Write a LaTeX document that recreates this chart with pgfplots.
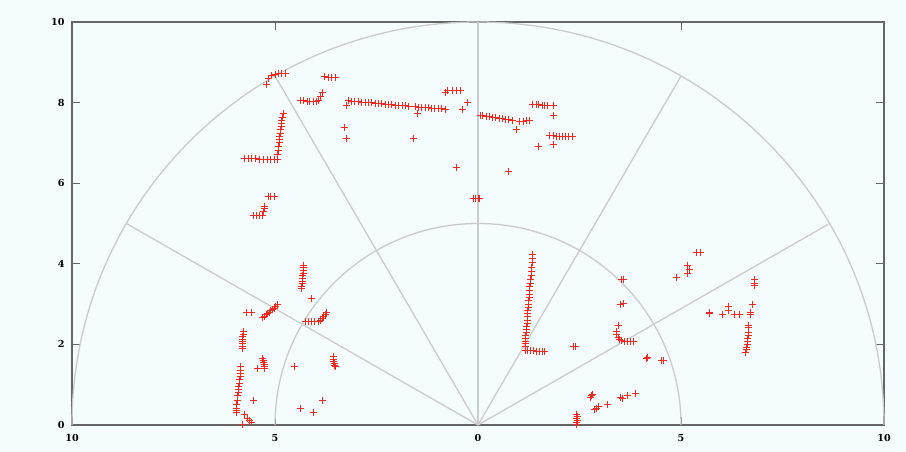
\documentclass[border=0pt]{standalone}
\usepackage{fontspec}
\setmainfont{DejaVu Serif}
\usepackage{pgfplots}
\pgfplotsset{compat=1.18}
\usepackage{pgfplotstable}
\definecolor{bgc}{HTML}{F5FCFD}
\definecolor{gridc}{HTML}{CBCBCB}
\definecolor{ptc}{HTML}{F0281E}

% points
\pgfplotstableread{
x y
-5.20 8.46
-5.15 8.60
-5.08 8.66
-5.00 8.70
-4.92 8.71
-4.84 8.72
-4.75 8.73
-5.74 6.62
-5.66 6.62
-5.58 6.62
-5.48 6.61
-5.38 6.60
-5.28 6.60
-5.18 6.59
-5.10 6.59
-5.02 6.58
-4.95 6.58
-4.93 6.70
-4.92 6.80
-4.91 6.90
-4.90 7.00
-4.89 7.08
-4.88 7.16
-4.87 7.24
-4.86 7.32
-4.85 7.40
-4.84 7.48
-4.83 7.56
-4.82 7.64
-4.80 7.72
-5.17 5.66
-5.10 5.66
-5.02 5.66
-5.27 5.43
-5.27 5.36
-5.28 5.29
-5.54 5.19
-5.45 5.19
-5.37 5.19
-5.30 5.20
-3.77 8.64
-3.69 8.63
-3.60 8.63
-3.52 8.62
-4.38 8.04
-4.31 8.04
-4.21 8.03
-4.14 8.03
-4.06 8.02
-3.97 8.02
-3.92 8.05
-3.87 8.14
-3.84 8.26
-3.20 8.04
-3.12 8.03
-3.04 8.03
-2.95 8.02
-2.86 8.01
-2.78 8.00
-2.70 8.00
-2.62 7.99
-2.53 7.98
-2.45 7.98
-2.37 7.97
-2.28 7.96
-2.20 7.96
-2.12 7.95
-2.03 7.94
-1.95 7.93
-1.86 7.93
-1.78 7.92
-1.70 7.91
-1.55 7.90
-1.47 7.89
-1.38 7.88
-1.30 7.88
-1.22 7.87
-1.14 7.86
-1.06 7.86
-0.98 7.85
-0.90 7.85
-0.81 7.84
-3.23 7.94
-3.30 7.39
-3.23 7.10
-1.50 7.74
-1.58 7.10
-0.81 8.26
-0.74 8.31
-0.62 8.31
-0.52 8.31
-0.44 8.31
-0.27 7.99
-0.37 7.82
-0.52 6.38
-0.12 5.63
-0.06 5.62
0.00 5.62
0.04 5.62
0.05 7.69
0.12 7.67
0.20 7.66
0.28 7.65
0.36 7.64
0.44 7.62
0.52 7.61
0.60 7.60
0.68 7.59
0.76 7.57
0.84 7.56
1.03 7.54
1.11 7.54
1.19 7.55
1.28 7.55
0.96 7.34
1.35 7.96
1.43 7.95
1.50 7.95
1.58 7.94
1.65 7.94
1.72 7.93
1.85 7.92
1.85 7.67
1.77 7.18
1.85 7.18
1.93 7.17
2.00 7.17
2.08 7.17
2.16 7.17
2.24 7.17
2.32 7.17
1.50 6.90
1.87 6.95
0.76 6.28
-4.30 3.97
-4.30 3.90
-4.31 3.83
-4.31 3.76
-4.32 3.70
-4.32 3.63
-4.33 3.57
-4.33 3.50
-4.34 3.44
-4.34 3.38
-4.09 3.13
-5.69 2.78
-5.57 2.78
-5.30 2.66
-5.26 2.70
-5.22 2.73
-5.18 2.76
-5.14 2.80
-5.10 2.83
-5.06 2.87
-5.02 2.90
-4.98 2.94
-4.95 2.98
-4.26 2.56
-4.18 2.56
-4.10 2.56
-4.02 2.56
-3.94 2.57
-3.88 2.60
-3.84 2.65
-3.80 2.70
-3.76 2.75
-3.72 2.80
-5.78 2.31
-5.78 2.25
-5.79 2.19
-5.79 2.13
-5.80 2.07
-5.80 2.01
-5.81 1.95
-5.81 1.90
-5.30 1.66
-5.29 1.60
-5.28 1.55
-5.27 1.50
-5.26 1.45
-5.25 1.41
-5.42 1.39
-4.53 1.46
-3.57 1.69
-3.56 1.63
-3.55 1.58
-3.54 1.53
-3.53 1.48
-3.52 1.44
-5.84 1.44
-5.85 1.36
-5.86 1.28
-5.86 1.20
-5.87 1.12
-5.88 1.04
-5.89 0.96
-5.90 0.88
-5.91 0.80
-5.92 0.72
-5.93 0.62
-5.94 0.52
-5.95 0.42
-5.96 0.36
-5.96 0.30
-5.52 0.62
-5.74 0.25
-5.67 0.17
-5.62 0.10
-5.57 0.05
-5.79 0.00
-4.38 0.40
-4.04 0.32
-3.82 0.62
1.35 4.22
1.34 4.12
1.33 4.02
1.325 3.92
1.32 3.82
1.31 3.72
1.30 3.62
1.29 3.52
1.28 3.43
1.27 3.34
1.27 3.25
1.26 3.16
1.25 3.08
1.25 3.00
1.24 2.92
1.23 2.84
1.23 2.76
1.22 2.68
1.21 2.60
1.21 2.52
1.20 2.45
1.20 2.38
1.19 2.30
1.18 2.22
1.18 2.15
1.17 2.08
1.17 2.01
1.16 1.94
1.16 1.86
1.22 1.85
1.30 1.84
1.37 1.84
1.44 1.83
1.51 1.83
1.58 1.82
1.65 1.82
2.36 1.94
2.40 1.94
3.53 3.60
3.58 3.61
3.52 3.00
3.58 3.01
3.47 2.46
3.40 2.32
3.41 2.25
3.45 2.18
3.49 2.13
3.54 2.09
3.60 2.07
3.67 2.06
3.75 2.06
3.82 2.07
4.14 1.64
4.17 1.67
4.58 1.59
4.53 1.60
2.76 0.69
2.80 0.72
2.83 0.75
2.88 0.38
2.92 0.42
2.96 0.45
3.20 0.52
3.50 0.67
3.57 0.66
3.69 0.72
3.89 0.79
2.43 0.25
2.44 0.20
2.43 0.15
2.44 0.10
2.42 0.05
2.43 0.00
5.39 4.27
5.47 4.27
5.15 3.95
5.22 3.87
5.15 3.75
4.88 3.67
6.82 3.62
6.80 3.52
6.80 3.45
5.69 2.80
5.70 2.76
6.16 2.93
6.16 2.85
6.03 2.75
6.31 2.73
6.45 2.73
6.75 3.00
6.70 2.73
6.72 2.78
6.67 2.48
6.67 2.42
6.66 2.30
6.66 2.22
6.65 2.15
6.64 2.08
6.63 2.00
6.62 1.93
6.61 1.87
6.60 1.81
}\pts

\begin{document}
\begin{tikzpicture}
\fill[bgc] (-72pt,-27pt) rectangle (834pt,425pt);
\begin{axis}[
  scale only axis, width=812pt, height=403pt,
  xmin=-10, xmax=10, ymin=0, ymax=10,
  xtick={-10,-5,0,5,10}, xticklabels={10,5,0,5,10},
  ytick={0,2,...,10},
  tick align=inside, major tick length=8pt,
  axis line style={black!60, line width=1.2pt},
  tick style={black!60, line width=1pt},
  axis background/.style={fill=bgc},
  clip=false,
  tick label style={font=\fontsize{9.6}{11}\selectfont\bfseries},
  xticklabel style={yshift=-6pt},
  yticklabel style={xshift=-4pt},
  /pgf/number format/assume math mode=true,
]
% polar grid
\draw[gridc, line width=1.3pt] (axis cs:5,0) arc[start angle=0, end angle=180, x radius=203pt, y radius=201.5pt];
\draw[gridc, line width=1.3pt] (axis cs:10,0) arc[start angle=0, end angle=180, x radius=406pt, y radius=403pt];
\draw[gridc, line width=1.3pt] (axis cs:0,0) -- (axis cs:8.660,5);
\draw[gridc, line width=1.3pt] (axis cs:0,0) -- (axis cs:5,8.660);
\draw[gridc, line width=1.3pt] (axis cs:0,0) -- (axis cs:0,10);
\draw[gridc, line width=1.3pt] (axis cs:0,0) -- (axis cs:-5,8.660);
\draw[gridc, line width=1.3pt] (axis cs:0,0) -- (axis cs:-8.660,5);

\addplot[only marks, mark=+, mark size=3.5pt, color=ptc, mark options={line width=1pt}] table {\pts};
\end{axis}
\pgfresetboundingbox
\path (-72pt,-27pt) rectangle (834pt,425pt);
\end{tikzpicture}
\end{document}
